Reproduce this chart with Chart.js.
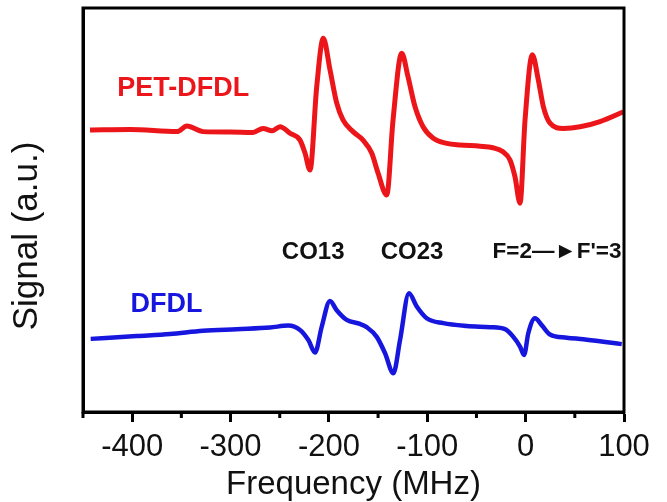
<!DOCTYPE html>
<html>
<head>
<meta charset="utf-8">
<script src="https://cdn.jsdelivr.net/npm/chart.js@4.4.1/dist/chart.umd.min.js"></script>
<style>
  html, body { margin: 0; padding: 0; background: #fff; }
  #wrap { width: 667px; height: 502px; position: relative; }
</style>
</head>
<body>
<div id="wrap"><canvas id="c" width="667" height="502"></canvas></div>
<script>
// ---- data (x: MHz, y: arbitrary units) ----
const freqRed = [-442.9,-402.2,-354.4,-344.3,-328.0,-300.5,-277.2,-267.0,-257.8,-249.7,-239.5,-229.4,-224.3,-219.2,-212.4,-205.7,-198.9,-192.1,-185.7,-175.5,-165.3,-156.5,-150.1,-141.2,-134.8,-126.0,-119.6,-112.5,-104.3,-94.2,-80.2,-66.7,-46.4,-33.2,-23.0,-15.9,-10.8,-5.7,-0.6,6.8,12.9,18.0,24.8,38.3,55.3,75.6,99.3];
const sigRed  = [69.8,69.9,69.4,70.8,69.4,69.3,69.2,70.2,69.6,70.6,69.0,67.3,64.1,59.9,80.5,92.5,84.7,76.5,72.3,69.4,67.3,64.1,59.2,53.7,72.3,88.8,83.0,75.6,70.6,67.8,66.5,66.1,65.8,65.4,64.4,62.4,58.2,51.7,72.3,88.4,82.2,75.6,71.5,70.2,70.6,71.9,74.3];
const freqBlue = [-442.2,-395.4,-361.5,-328.0,-293.7,-259.9,-241.3,-229.4,-220.9,-214.1,-207.3,-198.9,-192.1,-181.9,-168.4,-161.6,-151.4,-143.0,-134.5,-127.7,-118.6,-110.7,-100.6,-83.7,-59.9,-36.2,-21.0,-12.5,-5.7,-1.6,2.7,9.5,16.3,24.8,41.8,58.7,79.0,97.7];
const sigBlue  = [18.1,18.8,19.3,20.1,20.5,20.9,21.4,20.3,17.8,14.7,21.1,27.5,25.2,22.8,21.8,21.0,18.6,14.6,9.6,17.8,29.4,26.1,23.2,22.0,21.3,21.0,20.5,18.6,16.2,14.1,19.5,23.2,21.5,19.2,18.4,18.0,17.4,16.8];
const seriesNames = ["PET-DFDL", "DFDL"];
const peakLabels = ["CO13", "CO23", "F=2\u2014\u25BAF'=3"];
const majorTicks = [-400, -300, -200, -100, 0, 100];
const minorTicks = [-450, -350, -250, -150, -50, 50];
const xTitle = "Frequency (MHz)";
const yTitle = "Signal (a.u.)";

const FONT = "'Liberation Sans', Arial, sans-serif";
const RED = 'rgb(236,22,26)';
const BLUE = 'rgb(22,22,222)';

const toPts = (xs, ys) => xs.map((x, i) => ({x: x, y: ys[i]}));

// annotation positions in data units
const annos = [
  {text: seriesNames[0], x: -348, y: 80.0, color: RED, size: 27, bold: true},
  {text: seriesNames[1], x: -365, y: 26.7, color: BLUE, size: 27, bold: true},
  {text: peakLabels[0], x: -216, y: 39.6, color: '#111', size: 24, bold: true},
  {text: peakLabels[1], x: -115.5, y: 39.6, color: '#111', size: 24, bold: true},
  {text: peakLabels[2], x: 31.9, y: 39.6, color: '#111', size: 22.5, bold: true}
];

const decor = {
  id: 'decor',
  afterDraw(chart) {
    const {ctx, chartArea: a, scales: {x, y}} = chart;
    ctx.save();
    // frame
    ctx.strokeStyle = '#000';
    ctx.lineWidth = 3;
    ctx.strokeRect(a.left, a.top, a.right - a.left, a.bottom - a.top);
    // minor ticks
    ctx.lineWidth = 3;
    minorTicks.forEach(v => {
      const px = x.getPixelForValue(v);
      ctx.beginPath();
      ctx.moveTo(px, a.bottom);
      ctx.lineTo(px, a.bottom + 6);
      ctx.stroke();
    });
    // annotations
    ctx.textAlign = 'center';
    ctx.textBaseline = 'middle';
    annos.forEach(t => {
      ctx.font = (t.bold ? 'bold ' : '') + t.size + 'px ' + FONT;
      ctx.fillStyle = t.color;
      ctx.fillText(t.text, x.getPixelForValue(t.x), y.getPixelForValue(t.y));
    });
    // y title
    ctx.font = '35px ' + FONT;
    ctx.fillStyle = '#111';
    ctx.translate(27, 236);
    ctx.rotate(-Math.PI / 2);
    ctx.fillText(yTitle, 0, 0);
    ctx.restore();
  }
};

new Chart(document.getElementById('c'), {
  type: 'line',
  data: {
    datasets: [
      {label: seriesNames[0], data: toPts(freqRed, sigRed), borderColor: RED, borderWidth: 5,
       pointRadius: 0, cubicInterpolationMode: 'monotone', fill: false},
      {label: seriesNames[1], data: toPts(freqBlue, sigBlue), borderColor: BLUE, borderWidth: 4.5,
       pointRadius: 0, cubicInterpolationMode: 'monotone', fill: false}
    ]
  },
  options: {
    responsive: false,
    animation: false,
    events: [],
    layout: {padding: {left: 0, right: 43, top: 8, bottom: 0}},
    plugins: {legend: {display: false}, tooltip: {enabled: false}},
    scales: {
      x: {
        type: 'linear', min: -450, max: 100,
        afterFit: s => { s.height = 90; },
        afterBuildTicks: s => { s.ticks = majorTicks.map(v => ({value: v})); },
        grid: {display: true, drawOnChartArea: false, drawTicks: true, tickLength: 10, tickWidth: 3, tickColor: '#000'},
        border: {display: true, color: '#000', width: 3},
        ticks: {color: '#111', padding: 7, maxRotation: 0, font: {family: FONT, size: 31}},
        title: {display: true, text: xTitle, color: '#111', font: {family: FONT, size: 33}, padding: {top: 0, bottom: -3}}
      },
      y: {
        type: 'linear', min: 0, max: 100,
        afterFit: s => { s.width = 83; },
        grid: {display: false},
        border: {display: true, color: '#000', width: 3},
        ticks: {display: false}
      }
    }
  },
  plugins: [decor]
});
</script>
</body>
</html>
